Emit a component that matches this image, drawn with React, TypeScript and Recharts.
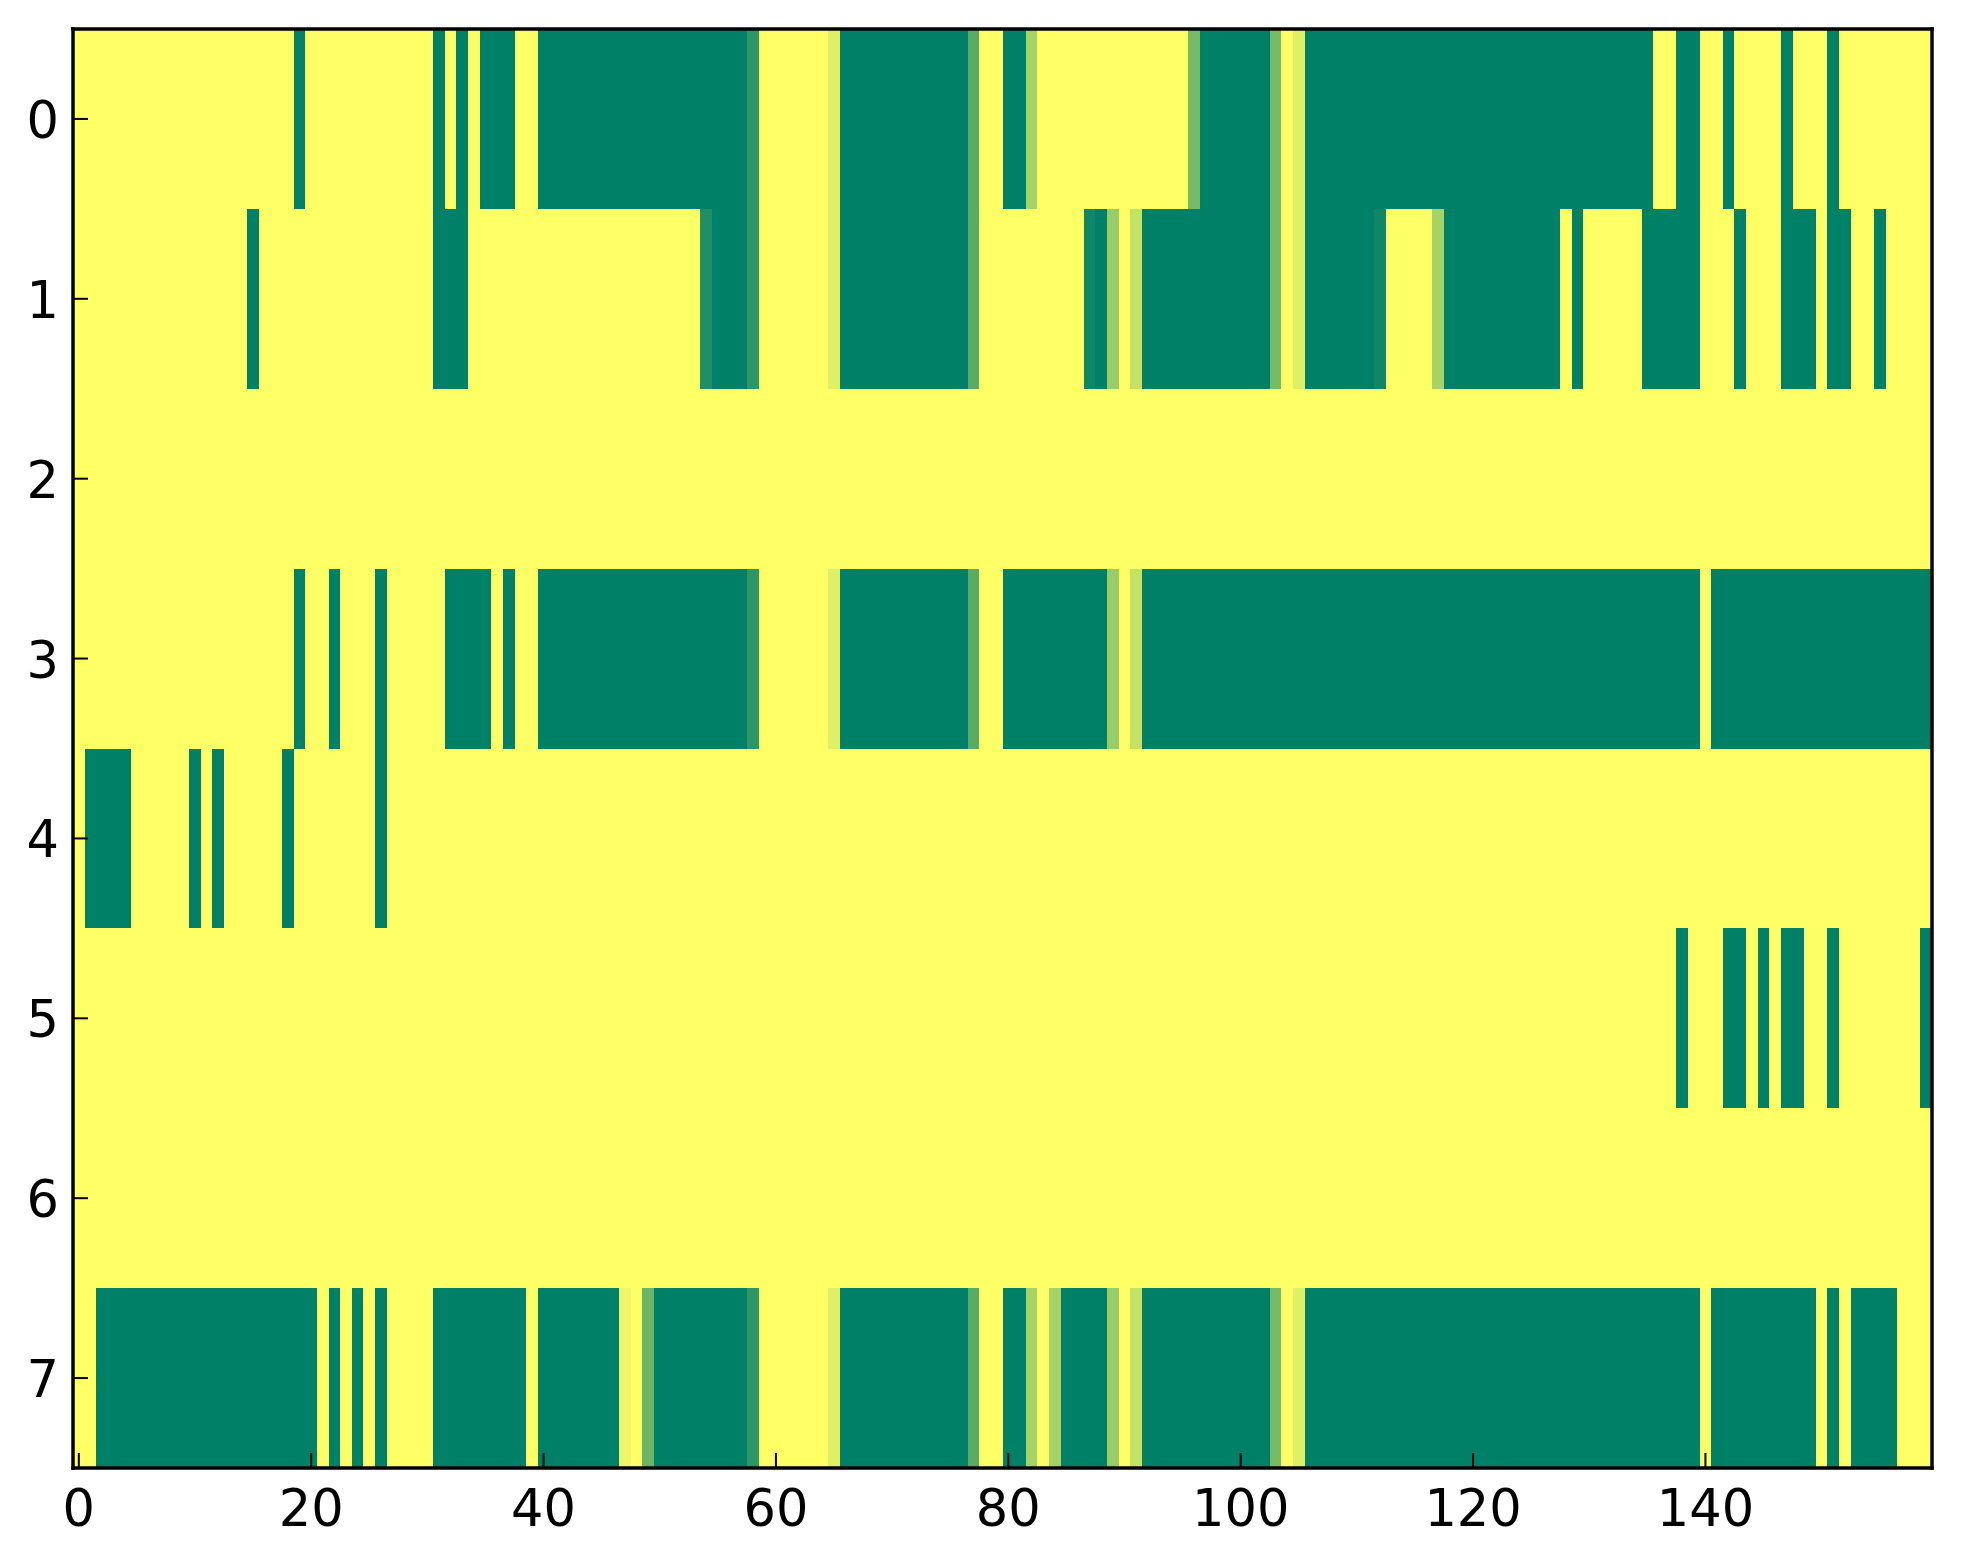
import { ScatterChart, Scatter, XAxis, YAxis } from "recharts";

document.body.style.margin = "0";

// each row: runs of "<level><count>", read left to right over 160 columns
// G = green (0), Y = yellow (1), a..k = in-between shades
const LEVELS: Record<string, number> = {
  G: 0, a: 0.06, b: 0.12, c: 0.18, d: 0.35, e: 0.42, f: 0.47,
  g: 0.6, h: 0.65, i: 0.77, j: 0.88, k: 0.93, Y: 1,
};

const row0 = "Y19 G1 Y11 G1 Y1 G1 Y1 G3 Y2 G18 c1 Y6 j1 G11 d1 Y2 G2 h1 Y13 f1 G6 f1 Y1 j1 G30 Y2 G2 Y2 G1 Y4 G1 Y3 G1 Y8";
const row1 = "Y15 G1 Y15 G3 Y20 b1 G3 c1 Y6 j1 G11 d1 Y9 a1 G1 g1 Y1 i1 G11 f1 Y1 j1 G6 a1 Y4 h1 G10 Y1 G1 Y5 G5 Y3 G1 Y3 G3 Y1 G2 Y2 G1 Y4";
const row2 = "Y160";
const row3 = "Y19 G1 Y2 G1 Y3 G1 Y5 G4 Y1 G1 Y2 G18 c1 Y6 j1 G11 d1 Y2 G9 g1 Y1 i1 G48 Y1 G19";
const row4 = "Y1 G4 Y5 G1 Y1 G1 Y5 G1 Y7 G1 Y133";
const row5 = "Y138 G1 Y3 G2 Y1 G1 Y1 G2 Y2 G1 Y7 G1";
const row6 = "Y160";
const row7 = "Y2 G19 Y1 G1 Y1 G1 Y1 G1 Y4 G8 Y1 G7 k1 Y1 e1 G8 c1 Y6 j1 G11 d1 Y2 G2 h1 Y1 h1 G4 g1 Y1 i1 G11 f1 Y1 j1 G34 Y1 G9 Y1 G1 Y1 G4 Y3";

const ROWS = [row0, row1, row2, row3, row4, row5, row6, row7];
const X_TICKS = [0, 20, 40, 60, 80, 100, 120, 140];
const Y_TICKS = [0, 1, 2, 3, 4, 5, 6, 7];
const N_COLS = 160;

const W = 1963;
const H = 1564;
const Y_AXIS_W = 60;
const X_AXIS_H = 60;
const EDGE_AXIS = 1; // top / right axes
const M = { top: 28, left: 73 - Y_AXIS_W, right: 30, bottom: 96 - X_AXIS_H };
const PLOT_W = W - M.left - Y_AXIS_W - M.right - EDGE_AXIS;
const PLOT_H = H - M.top - EDGE_AXIS - M.bottom - X_AXIS_H;
const CELL_W = PLOT_W / N_COLS;
const CELL_H = PLOT_H / ROWS.length;
const FONT = "'DejaVu Sans', sans-serif";
const FS = 51;
const TICK_LEN = 15;

function expand(runs: string): number[] {
  const out: number[] = [];
  runs.split(" ").forEach((tok) => {
    const v = LEVELS[tok[0]];
    const n = parseInt(tok.slice(1), 10);
    for (let i = 0; i < n; i++) out.push(v);
  });
  return out;
}

const cells = ROWS.flatMap((runs, r) => expand(runs).map((v, c) => ({ x: c, y: r, v })));

// matplotlib "summer"
function summer(v: number) {
  return `rgb(${Math.round(255 * v)},${Math.round(255 * (0.5 + 0.5 * v))},102)`;
}

function CellRect(props: any) {
  const { cx, cy, payload } = props;
  return (
    <rect
      x={cx - CELL_W / 2}
      y={cy - CELL_H / 2}
      width={CELL_W + 0.6}
      height={CELL_H + 0.6}
      fill={summer(payload.v)}
      shapeRendering="crispEdges"
    />
  );
}

function BottomTick(props: any) {
  const { x, y, payload } = props;
  return (
    <text x={x} y={y + 58} textAnchor="middle" fontFamily={FONT} fontSize={FS} fill="#000">
      {payload.value}
    </text>
  );
}

function LeftTick(props: any) {
  const { x, y, payload } = props;
  return (
    <text x={x - 14} y={y + 19} textAnchor="end" fontFamily={FONT} fontSize={FS} fill="#000">
      {payload.value}
    </text>
  );
}

const axisLine = { stroke: "#000", strokeWidth: 3.5, strokeLinecap: "square" as const };
const tickLine = { stroke: "#000", strokeWidth: 2 };

export default function App() {
  return (
    <div style={{ width: W, height: H, background: "#fff" }}>
      <ScatterChart width={W} height={H} margin={M}>
        <Scatter
          data={cells}
          xAxisId="b"
          yAxisId="l"
          shape={CellRect}
          isAnimationActive={false}
          zIndex={100}
        />
        <XAxis
          xAxisId="b"
          type="number"
          dataKey="x"
          domain={[-0.5, N_COLS - 0.5]}
          ticks={X_TICKS}
          interval={0}
          height={X_AXIS_H}
          tickSize={-TICK_LEN}
          tickMargin={TICK_LEN}
          tickLine={tickLine}
          axisLine={axisLine}
          tick={BottomTick}
          allowDataOverflow
        />
        <XAxis
          xAxisId="t"
          orientation="top"
          type="number"
          domain={[-0.5, N_COLS - 0.5]}
          ticks={X_TICKS}
          interval={0}
          height={EDGE_AXIS}
          tickSize={-TICK_LEN}
          tickLine={tickLine}
          axisLine={axisLine}
          tick={false}
          allowDataOverflow
        />
        <YAxis
          yAxisId="l"
          type="number"
          dataKey="y"
          domain={[-0.5, ROWS.length - 0.5]}
          reversed
          ticks={Y_TICKS}
          interval={0}
          width={Y_AXIS_W}
          tickSize={-TICK_LEN}
          tickMargin={TICK_LEN}
          tickLine={tickLine}
          axisLine={axisLine}
          tick={LeftTick}
          allowDataOverflow
        />
        <YAxis
          yAxisId="r"
          orientation="right"
          type="number"
          domain={[-0.5, ROWS.length - 0.5]}
          reversed
          ticks={Y_TICKS}
          interval={0}
          width={EDGE_AXIS}
          tickSize={-TICK_LEN}
          tickLine={tickLine}
          axisLine={axisLine}
          tick={false}
          allowDataOverflow
        />
      </ScatterChart>
    </div>
  );
}
